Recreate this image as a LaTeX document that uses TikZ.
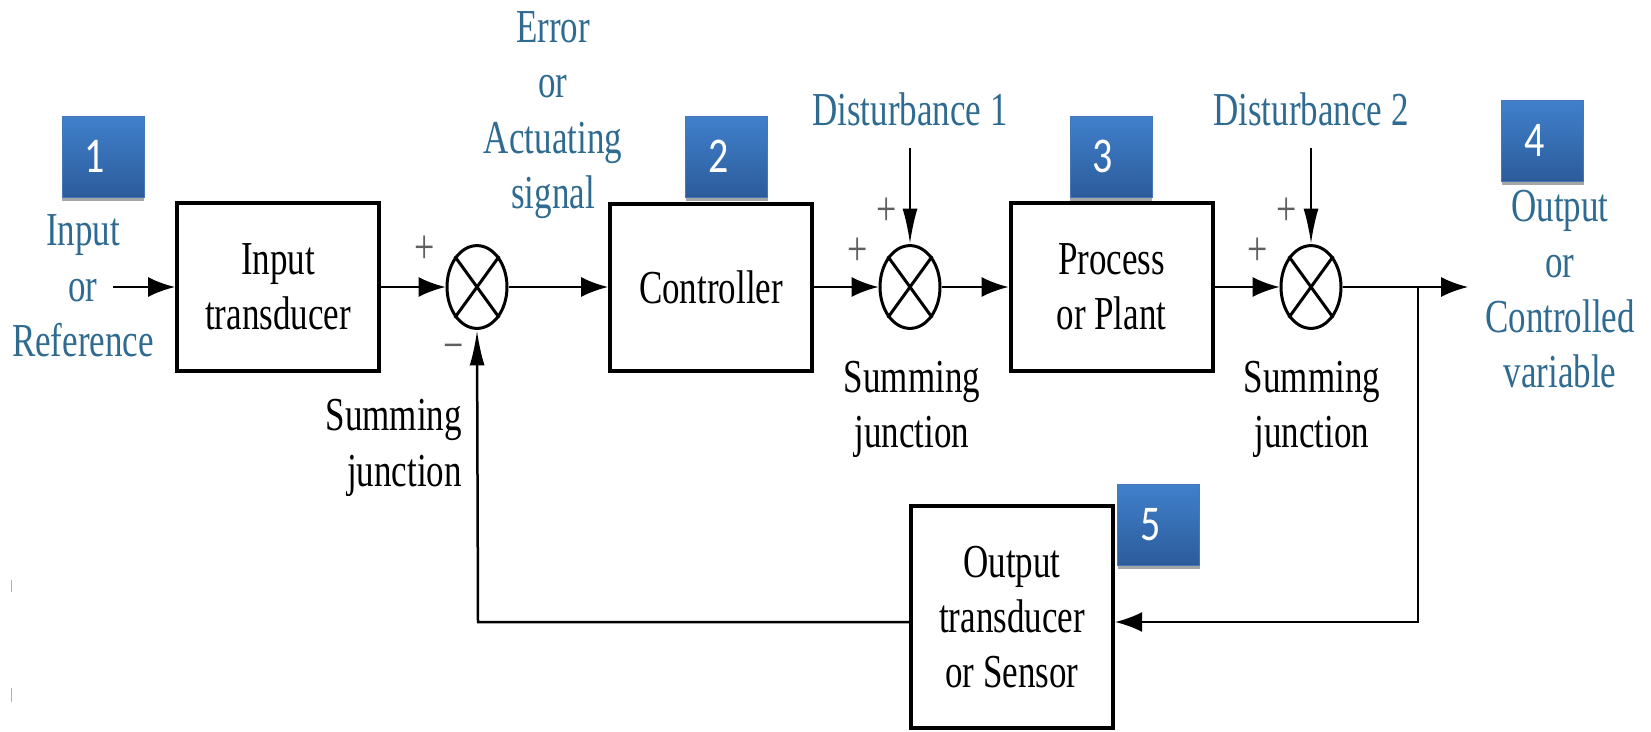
\documentclass[tikz,border=0pt]{standalone}
\usepackage{fontspec}
\setmainfont{Liberation Serif}
\newfontfamily\badgefont{Carlito}
\usetikzlibrary{arrows.meta,shadows,calc}
\definecolor{lblue}{RGB}{47,107,145}
\definecolor{bL}{RGB}{64,128,204}
\definecolor{bD}{RGB}{44,92,155}
\definecolor{bB}{RGB}{70,120,185}
\definecolor{sgn}{RGB}{95,95,95}
\begin{document}
\begin{tikzpicture}[x=1pt,y=-1pt,
  txt/.style={font=\fontsize{35}{41}\selectfont, yscale=1.35, inner sep=0pt, align=center},
  lbl/.style={txt, text=lblue},
  blk/.style={txt, draw, line width=4pt, minimum width=202pt},
  sumj/.style={circle, draw, line width=3pt, minimum size=60pt, inner sep=0pt, yscale=1.38},
  conn/.style={line width=2pt},
  harr/.style={conn, -{Latex[length=27pt,width=20pt]}},
  varr/.style={conn, -{Latex[length=35pt,width=15pt]}},
  sgnlbl/.style={font=\fontsize{36}{42}\selectfont, text=sgn, yscale=1.35, inner sep=0pt},
  badge/.style={minimum width=82pt, minimum height=64.8pt, yscale=1.25, inner sep=0pt,
    top color=bL, bottom color=bD, draw=bB, line width=0.8pt,
    drop shadow={shadow xshift=0pt, shadow yshift=-4pt, opacity=0.35, fill=black},
    font=\badgefont\fontsize{40}{48}\selectfont, text=white}
]
\fill[white] (0,0) rectangle (1651,731);
\useasboundingbox (0,0) rectangle (1651,731);

% blocks
\node[blk, minimum height=125pt] (in) at (278,287) {Input\\transducer};
\node[blk, minimum height=123.7pt] (ctrl) at (711,287) {Controller};
\node[blk, minimum height=125pt] (plant) at (1111.5,287) {Process\\or Plant};
\node[blk, minimum height=164.4pt] (sens) at (1012,617) {Output\\transducer\\or Sensor};

% summing junctions
\node[sumj] (s1) at (477,287) {};
\node[sumj] (s2) at (910,287) {};
\node[sumj] (s3) at (1311,287) {};
\foreach \s in {s1,s2,s3}
  \draw[line width=3pt] (\s.45) -- (\s.225) (\s.135) -- (\s.315);

% coordinates
\coordinate (inL) at (113,287);
\coordinate (outR) at (1468,287);
\coordinate (br) at (1418,287);
\coordinate (d1) at (910,148);
\coordinate (d2) at (1311,148);
\coordinate (fbR) at (1418,622);
\coordinate (fbL) at (478,622);

% connectors
\draw[harr] (inL) -- (in.west);
\draw[harr] (in.east) -- (s1.west);
\draw[harr] (s1.east) -- (ctrl.west);
\draw[harr] (ctrl.east) -- (s2.west);
\draw[harr] (s2.east) -- (plant.west);
\draw[harr] (plant.east) -- (s3.west);
\draw[harr] (s3.east) -- (outR);
\draw[varr] (d1) -- (s2.north);
\draw[varr] (d2) -- (s3.north);
\draw[harr, line width=2.5pt] (br) -- (fbR) -- (fbR -| sens.east);
\draw[varr, line width=2.5pt] (sens.west |- fbL) -- (fbL) -- (s1.south);

% signs
\node[sgnlbl] (p1) at (425,250) {+};
\node[sgnlbl] (m1) at (454,353) {−};
\node[sgnlbl] (p2a) at (887,212) {+};
\node[sgnlbl] (p2b) at (858,252) {+};
\node[sgnlbl] (p3a) at (1287,212) {+};
\node[sgnlbl] (p3b) at (1258,252) {+};

% labels
\node[lbl] (lin) at (83,286) {Input\\or\\Reference};
\node[lbl] (lerr) at (553,115) {Error\\or\\Actuating\\signal};
\node[lbl, anchor=base] (ld1) at (910,125) {Disturbance 1};
\node[lbl, anchor=base] (ld2) at (1311,125) {Disturbance 2};
\node[lbl] (lout) at (1560,289.5) {Output\\or\\Controlled\\variable};
\node[txt] (lsj2) at (912,409.5) {Summing\\junction};
\node[txt] (lsj3) at (1312,409.5) {Summing\\junction};
\node[txt, align=right, anchor=east] (lsj1) at (462,448) {Summing\\junction};

% badges
\node[badge] (b1) at (103,156.5) {\hspace*{-16pt}1};
\node[badge] (b2) at (726.5,156.5) {\hspace*{-16pt}2};
\node[badge] (b3) at (1111,156.5) {\hspace*{-16pt}3};
\node[badge] (b4) at (1542.5,140.5) {\hspace*{-16pt}4};
\node[badge] (b5) at (1158.5,524.5) {\hspace*{-16pt}5};

% small marks at left edge
\draw[gray!60, line width=1pt] (11,580) -- (11,592);
\draw[gray!60, line width=1pt] (11,688) -- (11,702);
\end{tikzpicture}
\end{document}
